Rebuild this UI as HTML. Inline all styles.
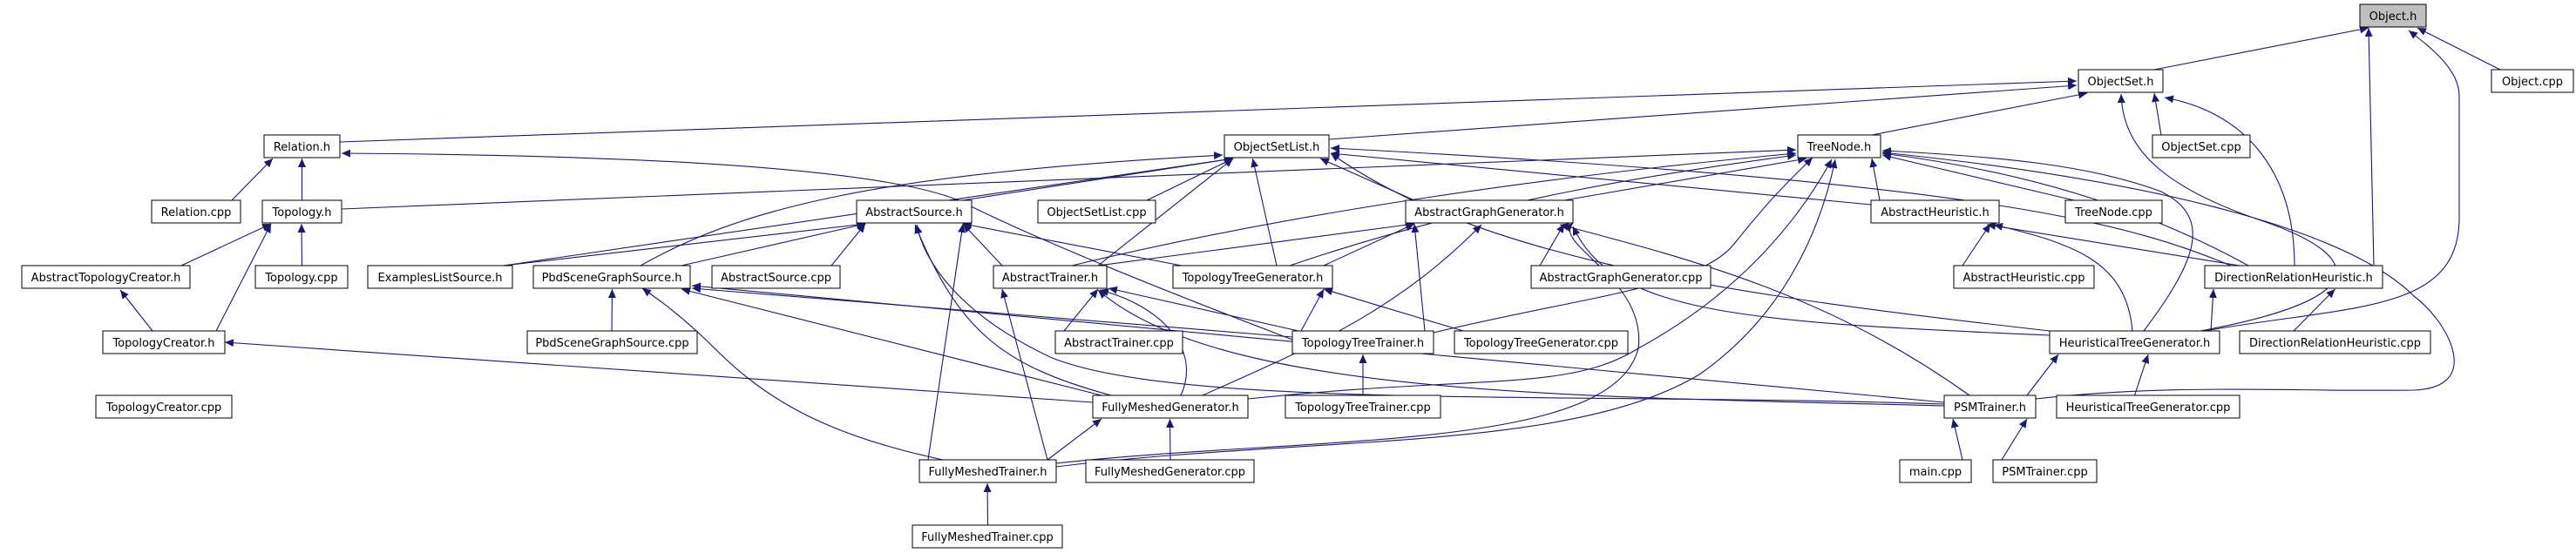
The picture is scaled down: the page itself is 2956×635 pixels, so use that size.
<!DOCTYPE html>
<html><head><meta charset="utf-8">
<style>
html,body{margin:0;padding:0;background:#fff;}
svg{display:block;}
text{font-family:"DejaVu Sans","Liberation Sans",sans-serif;font-size:13px;fill:#000;}
</style></head>
<body>
<svg id="g" width="2956" height="635" viewBox="0 0 2956 635" xmlns="http://www.w3.org/2000/svg">
<defs>
<marker id="a" markerUnits="userSpaceOnUse" markerWidth="11" markerHeight="9" refX="10" refY="4.5" orient="auto">
<path d="M0,0 L10,4.5 L0,9 z" fill="#191970"/>
</marker>
</defs>
<g id="edges" fill="none" stroke="#191970" stroke-width="1.1"></g>
<g id="nodes">
<rect x="2708" y="5" width="76" height="26" fill="#bfbfbf" stroke="#000"/><text x="2746" y="23" text-anchor="middle">Object.h</text>
<rect x="2859" y="80" width="94" height="26" fill="#fff" stroke="#000"/><text x="2906" y="98" text-anchor="middle">Object.cpp</text>
<rect x="2385" y="80" width="97" height="26" fill="#fff" stroke="#000"/><text x="2433.5" y="98" text-anchor="middle">ObjectSet.h</text>
<rect x="303" y="155" width="87" height="26" fill="#fff" stroke="#000"/><text x="346.5" y="173" text-anchor="middle">Relation.h</text>
<rect x="1405" y="155" width="120" height="26" fill="#fff" stroke="#000"/><text x="1465" y="173" text-anchor="middle">ObjectSetList.h</text>
<rect x="2063" y="155" width="95" height="26" fill="#fff" stroke="#000"/><text x="2110.5" y="173" text-anchor="middle">TreeNode.h</text>
<rect x="2470" y="155" width="112" height="26" fill="#fff" stroke="#000"/><text x="2526" y="173" text-anchor="middle">ObjectSet.cpp</text>
<rect x="174" y="230" width="102" height="26" fill="#fff" stroke="#000"/><text x="225" y="248" text-anchor="middle">Relation.cpp</text>
<rect x="301" y="230" width="91" height="26" fill="#fff" stroke="#000"/><text x="346.5" y="248" text-anchor="middle">Topology.h</text>
<rect x="983" y="230" width="132" height="26" fill="#fff" stroke="#000"/><text x="1049" y="248" text-anchor="middle">AbstractSource.h</text>
<rect x="1191" y="230" width="135" height="26" fill="#fff" stroke="#000"/><text x="1258.5" y="248" text-anchor="middle">ObjectSetList.cpp</text>
<rect x="1613" y="230" width="192" height="26" fill="#fff" stroke="#000"/><text x="1709" y="248" text-anchor="middle">AbstractGraphGenerator.h</text>
<rect x="2147" y="230" width="147" height="26" fill="#fff" stroke="#000"/><text x="2220.5" y="248" text-anchor="middle">AbstractHeuristic.h</text>
<rect x="2370" y="230" width="111" height="26" fill="#fff" stroke="#000"/><text x="2425.5" y="248" text-anchor="middle">TreeNode.cpp</text>
<rect x="25" y="305" width="193" height="26" fill="#fff" stroke="#000"/><text x="121.5" y="323" text-anchor="middle">AbstractTopologyCreator.h</text>
<rect x="293" y="305" width="106" height="26" fill="#fff" stroke="#000"/><text x="346" y="323" text-anchor="middle">Topology.cpp</text>
<rect x="422" y="305" width="166" height="26" fill="#fff" stroke="#000"/><text x="505" y="323" text-anchor="middle">ExamplesListSource.h</text>
<rect x="612" y="305" width="180" height="26" fill="#fff" stroke="#000"/><text x="702" y="323" text-anchor="middle">PbdSceneGraphSource.h</text>
<rect x="817" y="305" width="147" height="26" fill="#fff" stroke="#000"/><text x="890.5" y="323" text-anchor="middle">AbstractSource.cpp</text>
<rect x="1140" y="305" width="130" height="26" fill="#fff" stroke="#000"/><text x="1205" y="323" text-anchor="middle">AbstractTrainer.h</text>
<rect x="1346" y="305" width="183" height="26" fill="#fff" stroke="#000"/><text x="1437.5" y="323" text-anchor="middle">TopologyTreeGenerator.h</text>
<rect x="1757" y="305" width="206" height="26" fill="#fff" stroke="#000"/><text x="1860" y="323" text-anchor="middle">AbstractGraphGenerator.cpp</text>
<rect x="2242" y="305" width="161" height="26" fill="#fff" stroke="#000"/><text x="2322.5" y="323" text-anchor="middle">AbstractHeuristic.cpp</text>
<rect x="2530" y="305" width="204" height="26" fill="#fff" stroke="#000"/><text x="2632" y="323" text-anchor="middle">DirectionRelationHeuristic.h</text>
<rect x="118" y="380" width="140" height="26" fill="#fff" stroke="#000"/><text x="188" y="398" text-anchor="middle">TopologyCreator.h</text>
<rect x="605" y="380" width="195" height="26" fill="#fff" stroke="#000"/><text x="702.5" y="398" text-anchor="middle">PbdSceneGraphSource.cpp</text>
<rect x="1211" y="380" width="146" height="26" fill="#fff" stroke="#000"/><text x="1284" y="398" text-anchor="middle">AbstractTrainer.cpp</text>
<rect x="1483" y="380" width="162" height="26" fill="#fff" stroke="#000"/><text x="1564" y="398" text-anchor="middle">TopologyTreeTrainer.h</text>
<rect x="1669" y="380" width="199" height="26" fill="#fff" stroke="#000"/><text x="1768.5" y="398" text-anchor="middle">TopologyTreeGenerator.cpp</text>
<rect x="2352" y="380" width="195" height="26" fill="#fff" stroke="#000"/><text x="2449.5" y="398" text-anchor="middle">HeuristicalTreeGenerator.h</text>
<rect x="2570" y="380" width="219" height="26" fill="#fff" stroke="#000"/><text x="2679.5" y="398" text-anchor="middle">DirectionRelationHeuristic.cpp</text>
<rect x="110" y="454" width="156" height="26" fill="#fff" stroke="#000"/><text x="188" y="472" text-anchor="middle">TopologyCreator.cpp</text>
<rect x="1254" y="454" width="178" height="26" fill="#fff" stroke="#000"/><text x="1343" y="472" text-anchor="middle">FullyMeshedGenerator.h</text>
<rect x="1475" y="454" width="178" height="26" fill="#fff" stroke="#000"/><text x="1564" y="472" text-anchor="middle">TopologyTreeTrainer.cpp</text>
<rect x="2231" y="454" width="105" height="26" fill="#fff" stroke="#000"/><text x="2283.5" y="472" text-anchor="middle">PSMTrainer.h</text>
<rect x="2360" y="454" width="210" height="26" fill="#fff" stroke="#000"/><text x="2465" y="472" text-anchor="middle">HeuristicalTreeGenerator.cpp</text>
<rect x="1055" y="528" width="157" height="26" fill="#fff" stroke="#000"/><text x="1133.5" y="546" text-anchor="middle">FullyMeshedTrainer.h</text>
<rect x="1246" y="528" width="193" height="26" fill="#fff" stroke="#000"/><text x="1342.5" y="546" text-anchor="middle">FullyMeshedGenerator.cpp</text>
<rect x="2180" y="528" width="82" height="26" fill="#fff" stroke="#000"/><text x="2221" y="546" text-anchor="middle">main.cpp</text>
<rect x="2287" y="528" width="119" height="26" fill="#fff" stroke="#000"/><text x="2346.5" y="546" text-anchor="middle">PSMTrainer.cpp</text>
<rect x="1047" y="603" width="172" height="26" fill="#fff" stroke="#000"/><text x="1133" y="621" text-anchor="middle">FullyMeshedTrainer.cpp</text>
</g>
</svg>
<script>
(function(){
var H=26,N={};
var rs=document.querySelectorAll('#nodes rect'),ts=document.querySelectorAll('#nodes text');
for(var i=0;i<rs.length;i++){var r=rs[i];var x=+r.getAttribute('x'),y=+r.getAttribute('y'),w=+r.getAttribute('width');
N[ts[i].textContent]={x1:x,x2:x+w,y:y,cx:x+w/2};}
function cl(v,a,b){return Math.max(a,Math.min(b,v));}
var E=[
["ObjectSet.h","Object.h"],["Object.cpp","Object.h"],["DirectionRelationHeuristic.h","Object.h"],
["Relation.h","ObjectSet.h","M390 163 L2383 93"],["ObjectSetList.h","ObjectSet.h","M1525 160 L2383 98"],["TreeNode.h","ObjectSet.h"],["ObjectSet.cpp","ObjectSet.h"],
["Relation.cpp","Relation.h"],["Topology.h","Relation.h"],
["TopologyTreeTrainer.h","Relation.h","M1483 390 C1300 320 1180 270 1100 230 C1000 190 700 178 392 176"],
["AbstractTopologyCreator.h","Topology.h"],["TopologyCreator.h","Topology.h"],["Topology.cpp","Topology.h"],
["AbstractTopologyCreator.h","TopologyCreator.h","REV"],
["Topology.h","TreeNode.h","M392 240 L2061 172"],
["ExamplesListSource.h","ObjectSetList.h"],["ExamplesListSource.h","AbstractSource.h"],
["PbdSceneGraphSource.h","ObjectSetList.h","M735 305 C850 240 1000 200 1403 178"],["PbdSceneGraphSource.h","AbstractSource.h"],
["AbstractSource.cpp","AbstractSource.h"],["AbstractSource.h","ObjectSetList.h"],["ObjectSetList.cpp","ObjectSetList.h"],
["AbstractTrainer.h","ObjectSetList.h"],["AbstractTrainer.h","AbstractSource.h"],["TopologyTreeGenerator.h","AbstractSource.h"],
["TopologyTreeGenerator.h","ObjectSetList.h"],
["FullyMeshedTrainer.h","AbstractSource.h"],["FullyMeshedTrainer.h","AbstractTrainer.h"],
["FullyMeshedTrainer.h","PbdSceneGraphSource.h","M1082 528 C950 500 880 460 820 400 C780 360 750 340 737 331"],
["FullyMeshedTrainer.h","FullyMeshedGenerator.h"],
["FullyMeshedTrainer.h","TreeNode.h","M1212 536 C1500 500 1800 520 1950 430 C2050 360 2090 260 2106 183"],
["FullyMeshedTrainer.h","AbstractGraphGenerator.h","M1212 532 C1500 500 1850 520 1880 400 C1890 320 1780 280 1805 256"],
["FullyMeshedGenerator.cpp","FullyMeshedGenerator.h"],["FullyMeshedTrainer.cpp","FullyMeshedTrainer.h"],
["FullyMeshedGenerator.h","AbstractSource.h","M1275 454 C1150 420 1100 380 1050 258"],
["FullyMeshedGenerator.h","PbdSceneGraphSource.h"],
["FullyMeshedGenerator.h","AbstractTrainer.h","M1355 454 C1380 400 1330 350 1262 333"],
["FullyMeshedGenerator.h","TopologyCreator.h","M1254 462 L258 393"],
["FullyMeshedGenerator.h","AbstractGraphGenerator.h","M1380 454 C1500 400 1600 360 1700 258"],
["FullyMeshedGenerator.h","TreeNode.h","M1432 458 C1700 430 1800 450 1880 400 C1990 340 2060 260 2102 183"],
["AbstractTrainer.cpp","AbstractTrainer.h"],["PbdSceneGraphSource.cpp","PbdSceneGraphSource.h"],
["TopologyTreeTrainer.h","PbdSceneGraphSource.h","M1483 387 L794 331"],
["TopologyTreeTrainer.h","AbstractTrainer.h","M1490 380 L1272 331"],
["TopologyTreeTrainer.h","TopologyTreeGenerator.h"],
["PSMTrainer.h","AbstractSource.h","M2231 464 C1800 450 1350 470 1205 410 C1100 360 1060 300 1052 258"],
["PSMTrainer.h","PbdSceneGraphSource.h","M2231 462 L794 328"],
["PSMTrainer.h","AbstractTrainer.h","M2231 466 C1800 455 1400 455 1260 333"],
["PSMTrainer.h","AbstractGraphGenerator.h","M2260 454 C2100 340 1950 300 1790 258"],
["PSMTrainer.h","HeuristicalTreeGenerator.h"],
["PSMTrainer.h","TreeNode.h","M2336 458 C2500 440 2620 450 2770 448 C2850 445 2810 370 2770 340 C2700 270 2500 210 2160 175"],
["main.cpp","PSMTrainer.h"],["PSMTrainer.cpp","PSMTrainer.h"],
["TopologyTreeGenerator.h","AbstractGraphGenerator.h"],["TopologyTreeGenerator.h","TreeNode.h","M1480 305 C1700 230 1900 200 2061 178"],
["TopologyTreeGenerator.cpp","TopologyTreeGenerator.h"],["TopologyTreeTrainer.cpp","TopologyTreeTrainer.h"],
["TopologyTreeTrainer.h","AbstractGraphGenerator.h"],
["TopologyTreeTrainer.h","TreeNode.h","M1645 382 C1820 340 1950 330 1990 280 C2030 230 2050 210 2080 181"],
["AbstractGraphGenerator.h","TreeNode.h"],["AbstractGraphGenerator.h","ObjectSetList.h"],["AbstractGraphGenerator.cpp","AbstractGraphGenerator.h"],
["AbstractTrainer.h","AbstractGraphGenerator.h"],["AbstractTrainer.h","TreeNode.h","M1230 305 C1500 240 1800 200 2061 176"],
["AbstractHeuristic.h","TreeNode.h"],["AbstractHeuristic.h","ObjectSetList.h","M2147 235 L1527 176"],
["AbstractHeuristic.cpp","AbstractHeuristic.h"],
["DirectionRelationHeuristic.h","AbstractHeuristic.h","M2570 305 L2280 258"],
["DirectionRelationHeuristic.h","TreeNode.h","M2580 305 C2480 250 2350 200 2160 176"],
["DirectionRelationHeuristic.h","ObjectSetList.h","M2560 305 C2450 260 2300 210 1527 170"],
["HeuristicalTreeGenerator.h","AbstractHeuristic.h","M2447 380 C2440 300 2380 280 2288 258"],
["HeuristicalTreeGenerator.h","DirectionRelationHeuristic.h"],
["HeuristicalTreeGenerator.h","TreeNode.h","M2460 380 C2520 300 2540 250 2480 220 C2400 190 2300 180 2160 173"],
["HeuristicalTreeGenerator.h","ObjectSetList.h","M2352 380 C2000 340 1700 300 1527 176"],
["HeuristicalTreeGenerator.h","AbstractGraphGenerator.h","M2352 385 C2000 370 1850 360 1805 260"],
["HeuristicalTreeGenerator.h","Object.h","M2530 380 C2700 350 2822 360 2822 250 L2822 110 C2822 80 2790 55 2764 35"],
["HeuristicalTreeGenerator.h","ObjectSet.h","M2525 380 C2740 340 2700 290 2600 255 C2480 215 2436 170 2434 108"],
["DirectionRelationHeuristic.h","ObjectSet.h","M2633 305 C2633 200 2580 130 2484 112"],
["DirectionRelationHeuristic.cpp","DirectionRelationHeuristic.h"],["HeuristicalTreeGenerator.cpp","HeuristicalTreeGenerator.h"],
["TreeNode.cpp","TreeNode.h","M2380 230 L2160 178"]
];
var g=document.getElementById('edges'),s='';
E.forEach(function(e){
 var C=N[e[0]],P=N[e[1]],d;
 if(e[2]==="REV"){d="M175 380 L138 333";}
 else if(e[2]){d=e[2];}
 else{
  var sx=cl(P.cx,C.x1+10,C.x2-10),sy=C.y,ex=cl(C.cx,P.x1+10,P.x2-10),ey=P.y+H+1;
  d="M"+sx+" "+sy+" L"+ex+" "+ey;
 }
 s+='<path d="'+d+'" marker-end="url(#a)"/>';
});
g.innerHTML=s;
})();
</script>
</body></html>
